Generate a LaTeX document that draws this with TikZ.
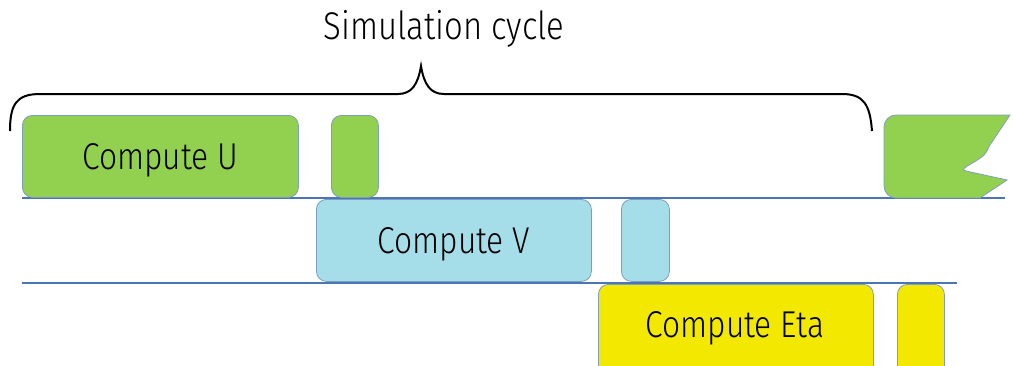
\documentclass[tikz,border=0pt]{standalone}
\usepackage{fontspec}
\newfontfamily\boxfont[FakeStretch=0.85]{Fira Sans Light}
\usetikzlibrary{positioning}

\definecolor{ugreen}{HTML}{92D050}
\definecolor{vblue}{HTML}{A5DDE8}
\definecolor{etayellow}{HTML}{F2E800}
\definecolor{edgeblue}{HTML}{7F9DBF}
\definecolor{trackblue}{HTML}{4A76B8}

\tikzset{
    phase/.style={
        rectangle,
        rounded corners=7.5pt,    % esquinas suaves
        draw=edgeblue,
        line width=0.6pt,
        fill=#1,
        inner sep=0pt,
        anchor=north west,
        minimum height=82*0.75pt,
        text depth=-3pt,          % baja un poco el texto
        font=\boxfont\fontsize{28}{32}\selectfont
    },
    track/.style={draw=trackblue, line width=0.8pt},
    cyclebrace/.style={draw=black, line width=1.5pt}
}

\begin{document}
\begin{tikzpicture}[x=0.75pt,y=-0.75pt]
    \useasboundingbox (0,0) rectangle (1013,365);
    \clip (0,0) rectangle (1013,365);

    % lineas de separacion
    \draw[track] (22,198) -- (1005,198);
    \draw[track] (22,283) -- (957,283);

    % fila U
    \node[phase=ugreen, minimum width=276*0.75pt] (cu) at (22,115) {Compute U};
    \node[phase=ugreen, minimum width=47*0.75pt] (cu2) at (331,115) {};
    \filldraw[fill=ugreen, draw=edgeblue, line width=0.6pt]
        (1010,115) -- (896,115) to[out=180,in=90] (884,127) -- (884,186)
        to[out=-90,in=180] (896,198) -- (980,198) -- (1007,180)
        -- (966,171) to[out=170,in=-115] (987,151) to[out=65,in=-130] (992,142) -- cycle;

    % fila V
    \node[phase=vblue, minimum width=275*0.75pt] (cv) at (316,199) {Compute V};
    \node[phase=vblue, minimum width=48*0.75pt] (cv2) at (621,199) {};

    % fila Eta
    \node[phase=etayellow, minimum width=275*0.75pt, minimum height=100*0.75pt] (ceta) at (598,284) {};
    \node[font=\boxfont\fontsize{28}{32}\selectfont] (etatext) at (735,328) {Compute Eta};
    \node[phase=etayellow, minimum width=47*0.75pt, minimum height=100*0.75pt] (ceta2) at (897,284) {};

    % llave del ciclo
    \draw[cyclebrace] (10,131) .. controls (10,105) and (16,94) .. (40,94)
        -- (398,94) .. controls (412,94) and (418,84) .. (421,66)
        .. controls (424,84) and (430,94) .. (444,94)
        -- (842,94) .. controls (864,94) and (870,105) .. (872,131);
    \node[font=\boxfont\fontsize{29}{33}\selectfont] (cycle) at (444,29) {Simulation cycle};
\end{tikzpicture}
\end{document}
